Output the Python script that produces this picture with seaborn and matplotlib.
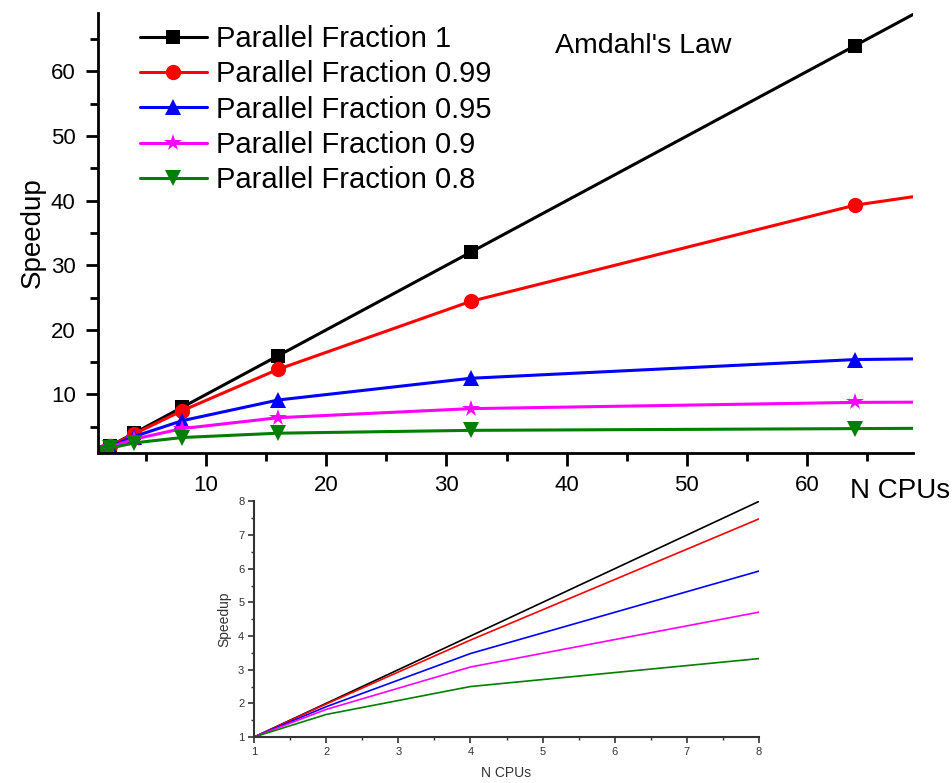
import matplotlib
matplotlib.use("Agg")
import matplotlib.pyplot as plt
import seaborn as sns
import numpy as np
from matplotlib.ticker import MultipleLocator

# ===== 数据 =====
n_cpus = [1, 2, 4, 8, 16, 32, 64]
x_edge = 68.8  # line continues to right end of axis (no marker)

speedup_100 = [1, 2, 4, 8, 16, 32, 64]
speedup_99 = [1, 1.98, 3.88, 7.48, 13.9, 24.4, 39.3]
speedup_95 = [1, 1.9, 3.48, 5.93, 9.14, 12.5, 15.4]
speedup_90 = [1, 1.82, 3.08, 4.71, 6.4, 7.8, 8.77]
speedup_80 = [1, 1.67, 2.5, 3.33, 4.0, 4.44, 4.71]
edge_values = [68.8, 40.6, 15.5, 8.8, 4.75]

labels = ['Parallel Fraction 1', 'Parallel Fraction 0.99', 'Parallel Fraction 0.95',
          'Parallel Fraction 0.9', 'Parallel Fraction 0.8']

# inset (zoom on N = 1..8)
inset_cpus = [1, 2, 4, 8]
inset_100 = [1, 2, 4, 8]
inset_99 = [1, 1.98, 3.88, 7.48]
inset_95 = [1, 1.9, 3.48, 5.93]
inset_90 = [1, 1.82, 3.08, 4.71]
inset_80 = [1, 1.67, 2.5, 3.33]

# ===== 样式 =====
COLORS = ['#000000', '#ff0000', '#0000ff', '#ff00ff', '#007f00']
MARKERS = ['s', 'o', '^', '*', 'v']
MSIZES = [10, 11, 11, 13, 11]
FONT_LABEL = 20
FONT_TICK = 16
FONT_LEGEND = 21

sns.set_style('ticks')
plt.rcParams['font.family'] = ['Liberation Sans', 'DejaVu Sans']
plt.rcParams['text.color'] = 'black'
plt.rcParams['axes.labelcolor'] = 'black'
plt.rcParams['xtick.color'] = 'black'
plt.rcParams['ytick.color'] = 'black'

fig = plt.figure(figsize=(9.53, 7.83), dpi=100)
ax = fig.add_axes([0.1028, 0.422, 0.855, 0.561])

series = [speedup_100, speedup_99, speedup_95, speedup_90, speedup_80]
for i, ys in enumerate(series):
    xs = n_cpus + [x_edge]
    yv = ys + [edge_values[i]]
    sns.lineplot(x=xs, y=yv, color=COLORS[i], marker=MARKERS[i], markersize=MSIZES[i],
                 markeredgewidth=0, markevery=list(range(len(n_cpus))),
                 linewidth=2.2, label=labels[i], ax=ax)

ax.set_xlim(1, 68.8)
ax.set_ylim(1, 69)
ax.xaxis.set_minor_locator(MultipleLocator(5))
ax.yaxis.set_minor_locator(MultipleLocator(5))
ax.set_xticks([10, 20, 30, 40, 50, 60])
ax.set_yticks([10, 20, 30, 40, 50, 60])
sns.despine(ax=ax)
for s in ['left', 'bottom']:
    ax.spines[s].set_linewidth(2)
    ax.spines[s].set_color('black')
ax.tick_params(axis='both', which='major', direction='out', length=9, width=2,
               labelsize=FONT_TICK, pad=7)
ax.tick_params(axis='both', which='minor', direction='out', length=6, width=2)

ax.set_ylabel('Speedup', fontsize=FONT_LABEL)
ax.set_xlabel('N CPUs', fontsize=FONT_LABEL, ha='right')
ax.xaxis.set_label_coords(1.046, -0.057)

ax.text(39, 64, "Amdahl's Law", fontsize=FONT_LABEL + 0.5, ha='left', va='center')

leg = ax.legend(loc='upper left', bbox_to_anchor=(0.03, 1.013), frameon=False,
                fontsize=FONT_LEGEND, handlelength=2.3, handletextpad=0.3,
                labelspacing=0.25, borderaxespad=0.2)

# ===== 小图 =====
axi = fig.add_axes([0.2665, 0.0587, 0.530, 0.301])
inset_series = [inset_100, inset_99, inset_95, inset_90, inset_80]
for i, ys in enumerate(inset_series):
    sns.lineplot(x=inset_cpus, y=ys, color=COLORS[i], linewidth=1.2, ax=axi)

axi.set_xlim(1, 8)
axi.set_ylim(1, 8)
axi.xaxis.set_major_locator(MultipleLocator(1))
axi.xaxis.set_minor_locator(MultipleLocator(0.5))
axi.yaxis.set_major_locator(MultipleLocator(1))
axi.yaxis.set_minor_locator(MultipleLocator(0.5))
sns.despine(ax=axi)
for s in ['left', 'bottom']:
    axi.spines[s].set_linewidth(1.5)
    axi.spines[s].set_color('#333333')
axi.tick_params(axis='both', which='major', direction='out', length=4, width=1.2,
                labelsize=8, pad=3, colors='#333333')
axi.tick_params(axis='both', which='minor', direction='out', length=2.5, width=1.0, colors='#333333')
axi.set_xlabel('N CPUs', fontsize=10, labelpad=7, color='#333333')
axi.set_ylabel('Speedup', fontsize=10, labelpad=5, color='#333333')

fig.savefig('out.png', dpi=100)
